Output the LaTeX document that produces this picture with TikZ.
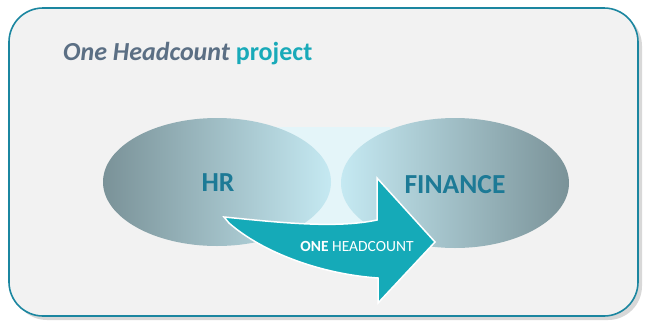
\documentclass[tikz,border=0pt]{standalone}
\usepackage{fontspec}
\setmainfont{Carlito}
\usetikzlibrary{shapes.geometric,shadows}
\definecolor{boxfill}{HTML}{F2F2F2}
\definecolor{boxline}{HTML}{1B86A0}
\definecolor{titlegray}{HTML}{5B6F84}
\definecolor{titleteal}{HTML}{19AAB9}
\definecolor{ovaldark}{HTML}{7A9298}
\definecolor{ovallight}{HTML}{C5E9F2}
\definecolor{bandfill}{HTML}{E4F5F9}
\definecolor{labelblue}{HTML}{1D7A96}
\definecolor{arrowfill}{HTML}{15AAB8}
\tikzset{
  oval/.style={ellipse, minimum width=228pt, minimum height=128pt, inner sep=0pt},
  ovallabel/.style={font=\bfseries\fontsize{27.5}{30}\selectfont, text=labelblue}
}
\begin{document}
\begin{tikzpicture}[x=1pt,y=-1pt]
        \useasboundingbox (0,0) rectangle (646,322);
        %box drawing
        \draw[boxline, line width=1.6pt, fill=boxfill, rounded corners=34pt,
              drop shadow={shadow xshift=4pt, shadow yshift=-4pt, fill=black!30}]
              (9,8) rectangle (638,316);

        % title
        \node[anchor=base west, inner sep=0pt, font=\bfseries\fontsize{26}{30}\selectfont] (title) at (63,60)
              {\textcolor{titlegray}{\itshape One Headcount} \textcolor{titleteal}{project}};

        % band between the ovals
        \fill[bandfill] (277,127) rectangle (390,250);

        % ovals
        \node[oval, shading=axis, left color=ovaldark, right color=ovallight] (hr) at (217,182) {};
        \node[oval, minimum height=130pt, shading=axis, left color=ovallight, right color=ovaldark] (fin) at (455,183) {};
        \node[ovallabel] (hrtext) at (218,183) {HR};
        \node[ovallabel] (fintext) at (455,185) {FINANCE};

        % curved arrow
        \coordinate (tailtop) at (224,217);
        \coordinate (tailbot) at (229,223);
        \coordinate (headtop) at (377,178);
        \coordinate (tip) at (435,242);
        \coordinate (headbot) at (378,303);
        \draw[white, line width=1.5pt, fill=arrowfill, line join=miter]
              (tailtop) .. controls (275,222) and (335,229) .. (377,220)
              -- (headtop) -- (tip) -- (headbot) -- (378,278)
              .. controls (320,274) and (262,252) .. (tailbot) -- cycle;
        \node[text=white, font=\fontsize{15.5}{18}\selectfont] (onehc) at (357,246) {\textbf{ONE} HEADCOUNT};
    \end{tikzpicture}
\end{document}
